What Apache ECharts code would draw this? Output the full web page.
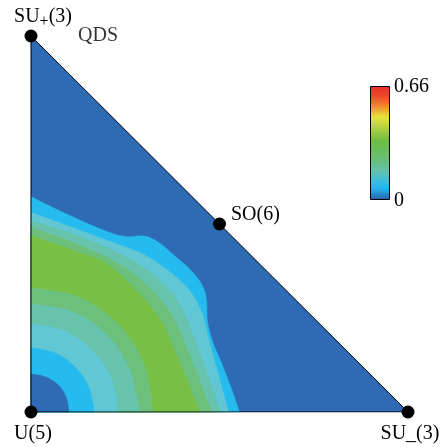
<!DOCTYPE html>
<html><head><meta charset="utf-8">
<script src="https://cdn.jsdelivr.net/npm/echarts@6/dist/echarts.min.js"></script>
<style>html,body{margin:0;padding:0;background:#fff}#c{width:440px;height:447px}</style>
</head><body><div id="c"></div>
<script>
// Vertices of the triangle (data coordinates)
const vertexNames = ['U(5)', 'SU_(3)', 'SU{sub|+}(3)', 'SO(6)'];
const vertexPoints = [[0, 0], [1, 0], [0, 1], [0.5, 0.5]];
const extraLabel = 'QDS';
const extraLabelPoint = [0.178, 1.0];

// Colour scale
const scaleMin = 0;
const scaleMax = 0.66;
const scaleLabels = ['0.66', '0'];
// Contour band colours (levels 0..5, step 0.066)
const bandColors = ['#2e6bb4', '#26bbee', '#62c7d4', '#67c3ab', '#6cc07c', '#77c045'];

// Contour boundaries (from the left edge to the bottom edge), data units
const O1 = [[0,0.573],[0.074,0.536],[0.181,0.488],[0.247,0.467],[0.300,0.468],[0.340,0.450],[0.380,0.416],[0.420,0.381],[0.452,0.341],[0.465,0.301],[0.468,0.243],[0.481,0.189],[0.505,0.131],[0.529,0.069],[0.553,0]];
const O2 = [[0,0.531],[0.082,0.501],[0.173,0.467],[0.287,0.424],[0.346,0.389],[0.412,0.333],[0.452,0.267],[0.473,0.187],[0.524,0]];
const O3 = [[0,0.509],[0.106,0.475],[0.213,0.432],[0.306,0.379],[0.386,0.299],[0.431,0.200],[0.503,0]];
const O4 = [[0,0.491],[0.106,0.453],[0.213,0.405],[0.298,0.347],[0.367,0.267],[0.412,0.173],[0.479,0]];
const O5 = [[0,0.469],[0.106,0.432],[0.199,0.395],[0.287,0.315],[0.346,0.240],[0.388,0.147],[0.447,0]];
const I5 = [[0,0.331],[0.125,0.307],[0.229,0.235],[0.298,0.133],[0.324,0]];
const I4 = [[0,0.288],[0.109,0.267],[0.202,0.205],[0.263,0.109],[0.287,0]];
const I3 = [[0,0.235],[0.088,0.216],[0.162,0.165],[0.213,0.088],[0.231,0]];
const I2 = [[0,0.171],[0.064,0.157],[0.117,0.120],[0.154,0.064],[0.168,0]];
const I1 = [[0,0.101],[0.040,0.093],[0.072,0.072],[0.093,0.040],[0.101,0]];

const bandCurves = [O1, O2, O3, O4, O5, I5, I4, I3, I2, I1];
const bandLevel = [1, 2, 3, 4, 5, 4, 3, 2, 1, 0];

function catmull(pts, n) {
  const out = [];
  for (let i = 0; i < pts.length - 1; i++) {
    const p0 = pts[Math.max(i - 1, 0)], p1 = pts[i], p2 = pts[i + 1], p3 = pts[Math.min(i + 2, pts.length - 1)];
    for (let s = 0; s < n; s++) {
      const t = s / n, t2 = t * t, t3 = t2 * t;
      const f = (a, b, c, d) => 0.5 * ((2 * b) + (-a + c) * t + (2 * a - 5 * b + 4 * c - d) * t2 + (-a + 3 * b - 3 * c + d) * t3);
      out.push([f(p0[0], p1[0], p2[0], p3[0]), f(p0[1], p1[1], p2[1], p3[1])]);
    }
  }
  out.push(pts[pts.length - 1]);
  return out;
}

function renderBand(params, api) {
  const i = api.value(2);
  if (i < 0) {
    return { type: 'polygon', shape: { points: [api.coord(vertexPoints[0]), api.coord(vertexPoints[1]), api.coord(vertexPoints[2])] }, style: { fill: bandColors[0] } };
  }
  const pts = bandCurves[i].map(p => api.coord(p));
  const dense = catmull(pts, 12);
  const corner = api.coord(vertexPoints[0]);
  return { type: 'polygon', shape: { points: [corner].concat(dense) }, style: { fill: bandColors[bandLevel[i]], stroke: bandColors[bandLevel[i]], lineWidth: 0.5 } };
}

const labelFont = 'Liberation Serif, Times New Roman, serif';
const labelCfg = [
  { position: 'inside', offset: [2, 22] },
  { position: 'inside', offset: [2, 22] },
  { position: 'inside', offset: [12, -19] },
  { position: 'right', distance: 5, offset: [0, -9] }
];

const chart = echarts.init(document.getElementById('c'));
chart.setOption({
  animation: false,
  grid: { left: 31, right: 32, top: 36, bottom: 35 },
  xAxis: { type: 'value', min: 0, max: 1, show: false },
  yAxis: { type: 'value', min: 0, max: 1, show: false },
  series: [
    {
      type: 'custom', silent: true, clip: false,
      renderItem: renderBand,
      encode: { x: 0, y: 1 },
      data: [[0, 0, -1]].concat(bandCurves.map((c, i) => [0, 0, i])),
      z: 1
    },
    {
      type: 'line', silent: true, symbol: 'none',
      data: [vertexPoints[0], vertexPoints[1], vertexPoints[2], vertexPoints[0]],
      lineStyle: { color: '#000', width: 1 },
      z: 2
    },
    {
      type: 'scatter', silent: true, symbolSize: 13,
      itemStyle: { color: '#000', opacity: 1 },
      data: vertexPoints.map((p, i) => ({
        value: p,
        label: Object.assign({
          show: true, formatter: vertexNames[i], color: '#000', fontSize: 20, fontFamily: labelFont,
          rich: { sub: { fontSize: 16, fontFamily: labelFont, color: '#000', padding: [9, 0, 0, 0] } }
        }, labelCfg[i])
      })),
      z: 3
    },
    {
      type: 'scatter', silent: true, symbolSize: 0,
      data: [{ value: extraLabelPoint, label: { show: true, position: 'inside', formatter: extraLabel, color: '#000', fontSize: 20, fontFamily: labelFont } }],
      z: 3
    }
  ],
  graphic: [
    {
      type: 'rect', left: 370, top: 86,
      shape: { width: 19, height: 113 },
      style: {
        stroke: '#000', lineWidth: 1,
        fill: new echarts.graphic.LinearGradient(0, 0, 0, 1, [
          { offset: 0, color: '#e7302a' },
          { offset: 0.08, color: '#eb452b' },
          { offset: 0.18, color: '#f28a2e' },
          { offset: 0.27, color: '#e8e23c' },
          { offset: 0.36, color: '#b6d344' },
          { offset: 0.48, color: '#6ebd45' },
          { offset: 0.62, color: '#67bf6c' },
          { offset: 0.74, color: '#63c1a8' },
          { offset: 0.84, color: '#3cbce0' },
          { offset: 0.9, color: '#22b4ec' },
          { offset: 1, color: '#2c5ea9' }
        ])
      }
    },
    { type: 'text', left: 394, top: 77, style: { text: scaleLabels[0], fontSize: 20, fontFamily: labelFont, fill: '#000' } },
    { type: 'text', left: 394, top: 191, style: { text: scaleLabels[1], fontSize: 20, fontFamily: labelFont, fill: '#000' } }
  ]
});
</script>
</body></html>
